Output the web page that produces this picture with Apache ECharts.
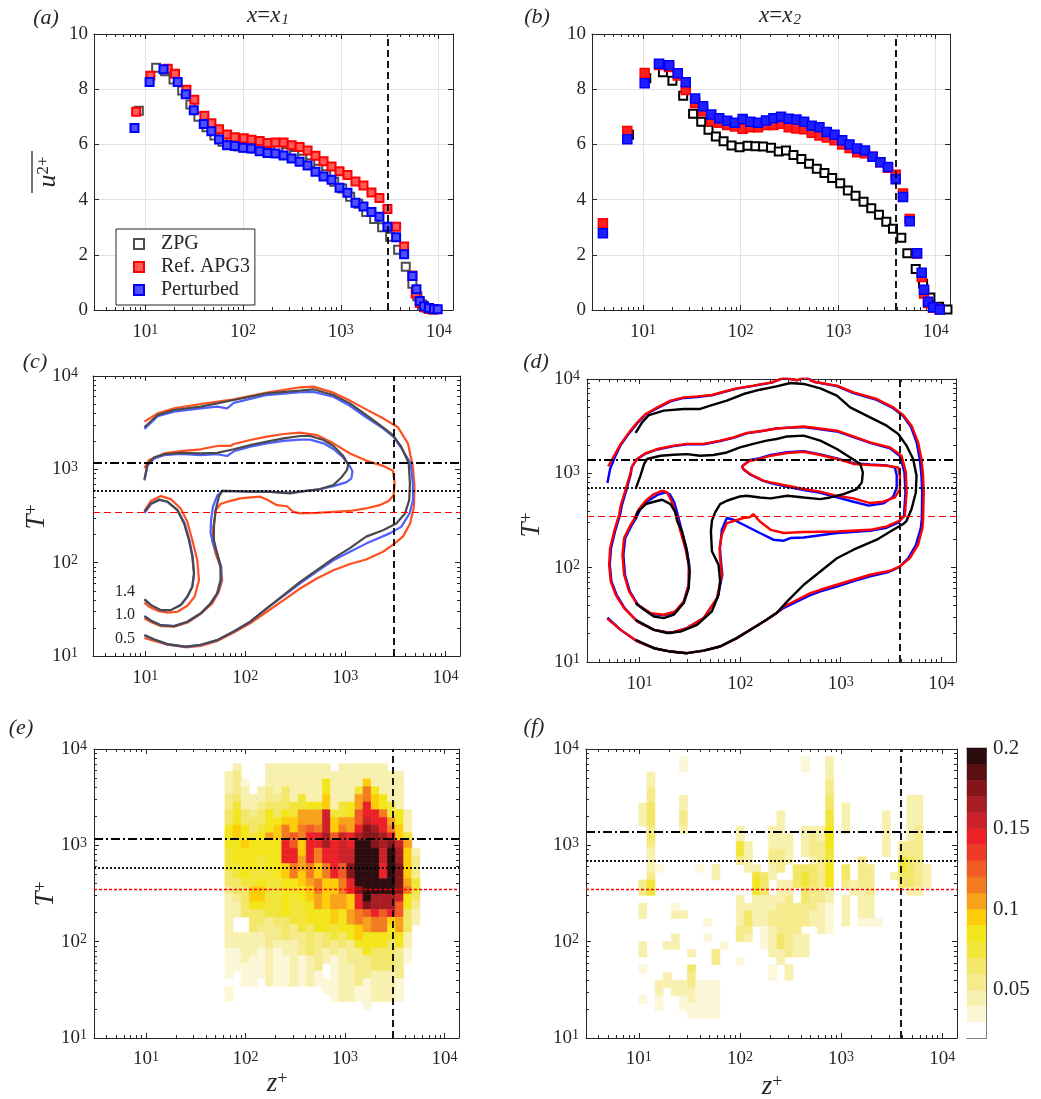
<!DOCTYPE html>
<html>
<head>
<meta charset="utf-8">
<title>Variance profiles and spectra</title>
<script src="https://cdn.jsdelivr.net/npm/echarts/dist/echarts.min.js"></script>
<style>
html,body{margin:0;padding:0;background:#ffffff;}
#chart{width:1041px;height:1099px;}
</style>
</head>
<body>
<div id="chart"></div>
<script>
// ================= DATA =================
// (a) x = x1 : streamwise variance profiles
const A_Z_ZPG = [8.61,12.95,16.0,19.5,23.9,29.0,35.0,42.3,51.0,61.5,74.3,89.6,108,131,157,190,230,277,334,403,487,587,708,855,1032,1245,1503,1814,2188,2642,3188,3847,4605,5381,6053,6809,7660,8616];
const A_U_ZPG = [7.22,8.78,8.65,8.35,7.95,7.45,7.0,6.62,6.32,6.1,5.98,5.92,5.88,5.85,5.82,5.80,5.80,5.72,5.62,5.48,5.32,5.12,4.92,4.65,4.40,4.10,3.85,3.55,3.30,3.00,2.65,2.18,1.57,0.95,0.50,0.20,0.06,0.02];
const A_Z_APG = [8.09,11.3,17.0,20.2,26.4,31.8,40.3,47.5,56.9,68.7,82.3,102,122,148,178,215,260,314,379,457,551,665,803,969,1169,1411,1703,2055,2480,2993,3671,4430,5381,5820,6397,7086,7962,8950];
const A_U_APG = [7.18,8.49,8.74,8.56,7.98,7.62,7.04,6.77,6.55,6.36,6.26,6.22,6.17,6.12,6.05,6.07,6.07,5.97,5.91,5.78,5.59,5.39,5.20,5.03,4.89,4.66,4.51,4.26,4.06,3.66,3.02,2.30,1.25,0.60,0.25,0.10,0.04,0.02];
const A_Z_PERT = [7.78,11.1,15.4,21.5,26.0,31.4,39.7,47.5,56.9,68.7,82.3,100,121,148,178,215,260,314,379,457,551,665,803,969,1169,1411,1703,2055,2480,2993,3671,4430,5381,5918,6397,7086,7962,8950,9770];
const A_U_PERT = [6.59,8.26,8.72,8.26,7.82,7.24,6.74,6.48,6.18,5.97,5.94,5.88,5.85,5.75,5.69,5.67,5.60,5.49,5.37,5.24,5.01,4.84,4.72,4.43,4.25,3.89,3.75,3.55,3.38,3.02,2.64,2.02,1.23,0.75,0.33,0.14,0.07,0.04,0.03];

// (b) x = x2
const B_Z_ZPG = [7.18,10.8,16.0,20.0,25.8,32.6,39.5,46.9,55.8,66.9,80.8,97.7,118,142,170,205,246,292,348,420,503,604,724,868,1049,1257,1507,1820,2183,2618,3114,3645,4440,5116,6234,7417,8810,10820,13190];
const B_U_ZPG = [6.35,8.40,8.61,8.31,7.76,7.11,6.82,6.53,6.29,6.11,5.96,5.90,5.95,5.93,5.92,5.88,5.74,5.78,5.62,5.47,5.30,5.12,4.96,4.78,4.59,4.33,4.14,3.92,3.69,3.45,3.20,2.94,2.62,2.06,1.49,0.95,0.45,0.12,0.02];
const B_Z_RB = [3.88,6.90,10.4,14.6,18.5,22.7,27.4,34.2,41.3,50.0,60.4,72.9,87.4,105,126,151,182,217,260,311,373,448,536,643,765,917,1100,1307,1567,1880,2253,2704,3238,3885,4617,5406,6427,7180,7590,8340,9395,10990];
const B_U_APG = [3.14,6.49,8.59,8.88,8.80,8.50,7.97,7.50,7.20,6.85,6.78,6.70,6.65,6.57,6.62,6.62,6.70,6.70,6.75,6.62,6.58,6.55,6.42,6.32,6.25,6.15,6.0,5.87,5.72,5.68,5.55,5.35,5.15,4.90,4.22,3.30,2.05,1.20,0.60,0.25,0.08,0.02];
const B_U_PERT = [2.78,6.19,8.22,8.92,8.87,8.58,8.25,7.66,7.38,7.08,6.95,6.86,6.78,6.92,6.82,6.78,6.87,6.95,7.00,6.93,6.90,6.82,6.68,6.62,6.45,6.35,6.15,6.0,5.85,5.78,5.55,5.35,5.18,4.74,4.09,3.22,2.06,1.35,0.73,0.30,0.10,0.02];

// reference lines: boundary-layer thickness and time scales
const DELTA_X1 = 3050, DELTA_X2 = 3900;
const TLINE_X1 = [1170, 590, 348];
const TLINE_X2 = [1400, 695, 349];

// (c) contours at x1, levels 0.5 / 1.0 / 1.4  [z+, T+]
const C_ZPG_05 = [[9.8,2820],[13.3,3820],[19.4,4320],[35.7,4690],[52.3,5090],[76.6,5530],[164,6520],[353,6960],[480,7200],[759,6250],[1111,5090],[1614,3820],[2380,2820],[2990,2330],[3620,1750],[4300,1160],[4420,708],[4350,468],[3950,337],[3230,263],[2380,223],[1614,190],[1111,143],[759,111],[518,83],[353,62.4],[241,44.9],[164,32.4],[112,23.3],[76.6,18.3],[52.3,14.8],[35.7,13.2],[25.3,12.6],[16.7,13.4],[12.3,15.0],[9.8,16.8]];
const C_ZPG_10 = [[9.8,783],[10.55,1140],[12.3,1345],[15.45,1450],[22.6,1500],[35.7,1480],[52.3,1500],[76.6,1640],[112,1820],[164,1980],[241,2150],[353,2275],[445,2275],[604,2060],[759,1780],[954,1390],[1070,1110],[1030,968],[916,823],[759,679],[559,615],[353,576],[281,552],[164,576],[112,576],[76.6,583],[58.7,589],[54.4,509],[50.4,365],[48.5,242],[48.5,175],[52.3,125],[56.5,90.1],[56.5,65.0],[52.3,46.8],[44.9,36.6],[35.7,28.6],[26.3,23.3],[19.4,20.9],[14.3,21.4],[11.4,23.9],[9.8,26.8]];
const C_ZPG_14 = [[9.8,350],[11.4,431],[13.8,475],[16.7,449],[20.95,365],[24.4,263],[27.3,175],[29.5,116],[30.7,76.5],[29.5,55.1],[26.3,43.1],[22.6,35.1],[18.0,31.0],[14.3,31.0],[11.4,35.1],[9.8,40.4]];
const C_PERT_05 = [[9.8,2700],[13.3,3700],[19.4,4150],[35.7,4500],[52.3,4700],[65.8,4500],[76.6,5150],[164,6250],[353,6700],[480,6750],[759,6000],[1111,4800],[1614,3600],[2380,2750],[2990,2250],[3620,1700],[4500,1160],[4730,708],[4750,468],[4380,337],[3620,242],[2770,206],[1614,160],[1111,131],[759,106],[518,80],[353,60],[241,44],[164,32.4],[112,23.3],[76.6,18.3],[52.3,14.8],[35.7,13.1],[25.3,12.5],[16.7,13.3],[12.3,15.0],[9.8,16.6]];
const C_PERT_10 = [[9.8,760],[10.55,1110],[12.3,1310],[15.45,1420],[22.6,1460],[35.7,1420],[52.3,1450],[65.8,1390],[76.6,1560],[112,1750],[164,1900],[241,2020],[353,2080],[445,2080],[604,1900],[759,1650],[954,1330],[1110,1080],[1176,960],[1150,800],[1030,730],[759,660],[559,612],[353,576],[281,560],[164,576],[112,576],[76.6,583],[58.7,589],[52.3,520],[47.5,400],[45.5,290],[44.9,210],[47.5,160],[52.3,125],[57.5,90],[57.5,65],[52.3,46.8],[44.9,36.6],[35.7,28.6],[26.3,23.3],[19.4,20.9],[14.3,21.4],[11.4,23.9],[9.8,26.8]];
const C_PERT_14 = [[9.8,340],[11.4,425],[13.8,470],[16.7,449],[20.95,368],[24.8,263],[27.6,175],[29.8,116],[30.7,76.5],[29.5,55.1],[26.3,43.1],[22.6,35.1],[18.0,31.0],[14.3,31.0],[11.4,35.1],[9.8,40.4]];
const C_APG_05 = [[9.8,3240],[13.3,3980],[19.4,4500],[35.7,5010],[76.6,5620],[164,6630],[353,7570],[480,7690],[759,6630],[1111,5450],[1614,4390],[2380,3520],[3360,2820],[4220,1900],[4730,1070],[4910,652],[4850,397],[4440,263],[3760,190],[2990,155],[2380,131],[1614,108],[1111,96.8],[759,83],[518,67.7],[353,52.9],[241,39.7],[164,29.8],[112,22.4],[76.6,17.8],[52.3,14.5],[35.7,12.8],[25.3,12.4],[16.7,13.2],[12.3,14.5],[9.8,15.6]];
const C_APG_10 = [[9.8,1030],[10.9,1260],[15.45,1480],[22.6,1570],[35.7,1640],[52.3,1780],[71,1780],[76.6,1870],[112,2060],[164,2240],[241,2390],[353,2470],[518,2330],[759,1900],[1111,1480],[1614,1240],[2380,1090],[2990,968],[3110,708],[3040,530],[2730,460],[2200,413],[1614,381],[1111,358],[759,350],[518,342],[353,337],[303,350],[260,402],[207,413],[164,475],[141,509],[112,500],[89.3,488],[76.6,468],[65.8,449],[56.5,425],[50.8,365],[47.9,242],[46.7,175],[50.4,125],[56.5,90],[58.7,65],[54.4,48.8],[46.7,36.6],[35.7,28.2],[26.3,22.7],[19.4,20.6],[14.3,20.9],[11.4,23.1],[9.8,25.3]];
const C_APG_14 = [[9.8,358],[11.4,460],[14.3,517],[18.0,480],[22.6,381],[26.3,274],[29.5,175],[33.1,106],[34.4,65],[31.1,43.1],[26.3,34.5],[20.95,29.8],[16.7,29.1],[13.3,30.5],[10.9,33.7],[9.8,37.3]];
const C_LEVEL_TEXT = ['1.4', '1.0', '0.5'];

// (d) contours at x2
const D_ZPG_05 = [[9.13,2680],[10.6,3470],[12.4,4150],[17.4,4620],[27.5,4810],[40.1,4810],[50.4,5210],[73.7,5890],[108,6930],[157,7700],[230,8350],[316,9070],[429,8860],[627,7950],[916,6650],[1242,5000],[1960,3920],[2863,3200],[3730,2610],[4515,1965],[5250,1420],[5670,944],[5580,627],[5058,418],[4515,314],[4180,290],[3330,252],[2281,198],[1340,155],[916,126],[627,91.2],[429,65.9],[294,43.9],[230,33.0],[183,28.0],[135,22.9],[92.5,17.9],[63.2,14.6],[43.3,13.2],[29.6,12.4],[20.3,12.9],[13.9,14.0],[9.13,17.2]];
const D_ZPG_10 = [[9.13,682],[10.2,944],[11.1,1257],[11.9,1420],[16.1,1537],[21.9,1575],[29.6,1600],[40.1,1537],[54.4,1565],[73.7,1665],[99.8,1885],[135,2050],[183,2220],[230,2310],[294,2460],[429,2510],[627,2220],[916,1810],[1242,1475],[1561,1257],[1659,1023],[1622,802],[1446,682],[1067,603],[787,555],[627,533],[429,555],[294,578],[201,542],[157,555],[116,578],[99.8,569],[73.7,512],[63.2,472],[56.4,385],[52.4,314],[51.2,242],[52.4,149],[61.0,107],[63.2,71.5],[61.0,51.6],[52.4,34.4],[37.3,24.8],[25.5,21.0],[18.8,20.3],[13.9,21.9],[9.49,27.3],[9.13,28.0]];
const D_ZPG_14 = [[9.13,330],[9.49,385],[11.5,472],[13.9,500],[16.8,525],[20.3,472],[22.7,385],[23.6,314],[26.4,242],[29.6,149],[31.5,91.2],[30.8,60.8],[27.5,42.2],[21.9,31.7],[17.4,29.2],[13.9,30.4],[11.1,35.8],[9.13,42.2]];
const D_APG_05 = [[4.87,1184],[5.58,1537],[6.49,2050],[7.86,2720],[9.49,3470],[11.5,4260],[15.0,5000],[20.3,5890],[27.5,6380],[37.3,6540],[52.4,6770],[68.4,7330],[92.5,7950],[135,8500],[206,9200],[272,10300],[369,9700],[445,10550],[538,9360],[916,8500],[1340,7210],[2281,6140],[3330,5000],[4180,4150],[5058,3200],[5880,2130],[6350,1420],[6590,944],[6690,627],[6590,327],[6500,263],[5880,175],[4870,126],[3875,103],[3089,92.7],[1960,84.1],[1340,74.5],[916,65.9],[627,58.3],[499,53.8],[369,45.7],[272,38.8],[230,33.0],[183,28.0],[135,22.9],[92.5,17.9],[63.2,14.6],[43.3,13.2],[29.6,12.4],[20.3,12.9],[13.9,14.0],[9.49,16.5],[6.49,21.9],[4.79,28.7]];
const D_PERT_05 = [[4.79,789],[5.09,1110],[5.7,1500],[6.49,2000],[7.86,2650],[9.49,3400],[11.5,4200],[15.0,4900],[20.3,5800],[27.5,6300],[37.3,6450],[52.4,6700],[68.4,7250],[92.5,7900],[135,8450],[206,9150],[272,10300],[369,9700],[445,10550],[538,9360],[916,8400],[1340,7100],[2281,6000],[3330,4900],[4180,4050],[5000,3100],[5700,2100],[6100,1420],[6350,944],[6450,627],[6400,327],[6250,263],[5600,175],[4700,126],[3800,101],[3000,90],[1960,81],[1340,72],[916,63],[627,56],[499,51],[369,44],[272,37.5],[230,33],[183,28],[135,22.9],[92.5,17.9],[63.2,14.6],[43.3,13.2],[29.6,12.4],[20.3,12.9],[13.9,14.0],[9.49,16.5],[6.49,21.9],[4.79,29.5]];
const D_APG_10 = [[8.47,1204],[9.49,1420],[11.5,1640],[15.0,1810],[21.9,1965],[29.6,2050],[43.3,2050],[63.2,2220],[85.8,2400],[116,2680],[170,2830],[230,2990],[429,3140],[916,2830],[1960,2130],[3089,1885],[4026,1537],[4443,1023],[4515,627],[4344,355],[3730,309],[2863,274],[1960,252],[916,242],[429,239],[272,233],[201,252],[157,309],[135,370],[124,341],[108,336],[73.7,297],[65.7,223],[62.4,161],[63.2,126],[65.7,84.1],[58.7,47.6],[43.3,29.2],[29.6,22.9],[20.3,20.3],[13.9,21.9],[9.49,26.9],[7.01,37.3],[5.79,51.6],[5.16,71.5],[4.98,107],[5.09,161],[5.58,242],[6.25,364],[6.49,453],[7.28,682],[8.15,1023],[8.47,1204]];
const D_PERT_10 = [[8.3,1150],[9.3,1400],[11.5,1620],[15.0,1790],[21.9,1940],[29.6,2030],[43.3,2030],[63.2,2200],[85.8,2380],[116,2650],[170,2830],[230,3000],[429,3100],[916,2780],[1960,2100],[3089,1840],[3900,1520],[4300,1023],[4400,627],[4250,355],[3730,300],[2863,265],[1960,246],[916,233],[429,209],[316,206],[272,193],[214,198],[157,233],[108,285],[85.8,322],[73.7,336],[65.7,252],[63,161],[64,126],[66.5,84.1],[59.5,47.6],[43.3,29.2],[29.6,22.9],[20.3,20.3],[13.9,21.9],[9.49,26.9],[7.1,37.3],[5.9,51.6],[5.25,71.5],[5.05,107],[5.2,161],[5.7,242],[6.4,364],[6.65,453],[7.45,682],[8.2,1000],[8.3,1150]];
const D_APG_14A = [[16.8,655],[13.9,603],[11.5,512],[9.86,418],[8.81,327],[8.15,285],[7.01,206],[6.75,137],[7.01,84.1],[7.86,56.0],[9.49,40.5],[12.9,33.0],[17.4,31.7],[22.7,34.4],[27.5,43.9],[30.8,65.9],[30.8,107],[28.5,161],[25.5,242],[23.6,336],[21.1,491],[18.8,627],[16.8,655]];
const D_PERT_14A = [[18.2,630],[15.0,590],[12.0,505],[10.2,418],[9.1,327],[8.4,285],[7.2,206],[6.9,137],[7.15,84.1],[8.0,56.0],[9.6,40.5],[12.9,32.5],[17.4,31.2],[22.7,34.0],[27.5,43.5],[30.8,65.9],[31.2,107],[29.2,161],[26.4,242],[24.4,336],[22.2,491],[20.0,600],[18.2,630]];
const D_APG_14B = [[104,1184],[125,1361],[157,1420],[201,1537],[294,1640],[429,1695],[627,1565],[916,1420],[1340,1257],[1960,1225],[2863,1204],[3730,1156],[3875,944],[3875,682],[3460,555],[2652,500],[1960,484],[1340,542],[916,578],[627,639],[429,682],[294,739],[201,802],[170,836],[125,984],[108,1111],[104,1184]];
const D_PERT_14B = [[104,1184],[125,1390],[157,1450],[201,1570],[294,1680],[429,1720],[627,1590],[916,1440],[1340,1280],[1960,1240],[2863,1215],[3460,1150],[3600,960],[3600,700],[3300,560],[2650,480],[1900,455],[1340,500],[916,555],[627,620],[429,665],[294,720],[201,790],[170,830],[125,975],[108,1100],[104,1184]];

// (e),(f) binned maps: one string per z+ column (top T+ row first); code -> value below
const CODE_VALUE = {'2':0.035,'3':0.045,'4':0.055,'5':0.065,'6':0.075,'7':0.085,'8':0.085,'9':0.095,'a':0.105,'b':0.095,'c':0.115,'d':0.125,'e':0.145,'f':0.155,'g':0.165,'h':0.175,'i':0.195};
const E_BINS = {logZ0:1.793, dLogZ:0.0817, logTtop:3.848, dLogT:0.0797};
const E_COLS = [
".333445587766655433333332222.22..",
"34445677b97776655433..33222......",
"..23335577b777765555..3333222....",
"....334556777766bb75553332222....",
"...3345567776667bb7554332222.....",
"333445777a7777666666444433333....",
"33334557998777766666544322222....",
"3335557bcceee9977777555332222....",
"333336699ddeecc77666644333333....",
"333366aaccbbaabb7766664442222....",
"333337aadeeeecca9977755553333....",
"333337aaceeccbbccaa7774444422....",
"3388bbfffggeeccbb997775533..22...",
".33333699deeeeebbaa996644222222..",
"3333366acffffddccaa777553333333..",
"3333377aaeeffhheebbaa7744433333..",
"3336aaddegiiiiiiheecc9974444422..",
"339cceefhhiiiiiiiihdaa7774442222.",
"3337bbeeghhiiiiiiggecc885553333..",
"333377ceeggffeeiiggdcc885553333..",
".333366acehiiiiiiggeb8855553333..",
".3333377bbfgghhhhfddaa774444222..",
"......3336abb99ac775553322.......",
"...........3444665433............"
];
const F_BINS = {logZ0:0.999, dLogZ:0.0803, logTtop:3.92, dLogT:0.08};
const F_COLS = [
"......333.......44.33...33.2...2....",
"..3344555454333466..................",
"..............2..............3322...",
"........................3...33......",
"...................23..33....33.....",
"22...33443..........3........3322...",
".........................3.5443322..",
"..............2..............22222..",
".....................2.2.....22222..",
"..............33.........44..22222..",
"........................2...........",
"....................................",
".........33664....333344..2.........",
"...........3333....35543............",
"..............36763333..............",
"...............5553333222...........",
".........3334433..33443333.22.......",
".......33333444.33344445533.........",
"..........3333..3344444444.33.......",
"..............555..4444333..........",
"22.......3333.56655444.333..........",
".........3444355544433..............",
".........33444444443333.............",
"33344556677766777332222.............",
"....................................",
"......3333....554.3333..............",
"................33..................",
".............444433332..............",
"..............44443332..............",
".....................2..............",
".......333333.......................",
"...............3....................",
"...........446655...................",
".....3333334455553..................",
".....3333444444443..................",
"..............333..................."
];

// colour bar: 18 bands of 0.01 from 0.02 to 0.2 (bottom to top)
const CB_MIN = 0.02, CB_STEP = 0.01;
const CB_COLORS = ['#ffffff','#fcf7d6','#f8f0af','#f5eb8c','#f3e76a','#f2e53a','#f3e61b','#fdcd0a','#f8a21b','#f47c20','#f15b24','#ef3a26','#ec2027','#cb2128','#a71d22','#85151a','#5a0e11','#2b0c0f'];
const CB_TICKS = [0.05, 0.1, 0.15, 0.2];

// tick values
const LOG_MAJOR = [10, 100, 1000, 10000];
const LOG_MINOR = [3,4,5,6,7,8,9,20,30,40,50,60,70,80,90,200,300,400,500,600,700,800,900,2000,3000,4000,5000,6000,7000,8000,9000];
const Z_RANGE = [3, 14000];
const T_RANGE = [10, 10000];
const U_RANGE = [0, 10];

// ================= STYLE / BUILD =================
const FONT = '"Liberation Serif","Times New Roman",serif';
const INK = '#262626';
const zip = (a, b) => a.map((v, i) => [v, b[i]]);

const POW_RICH = {
  b: {fontFamily: FONT, fontSize: 19, color: INK, lineHeight: 19, verticalAlign: 'bottom'},
  s: {fontFamily: FONT, fontSize: 14, color: INK, lineHeight: 14, verticalAlign: 'top', padding: [0, 0, 10, 0]}
};
function powFmt(v) { const e = Math.round(Math.log10(v)); return '{b|10}{s|' + e + '}'; }

const grids = [
  {left: 94, top: 34, width: 359, height: 276},
  {left: 592, top: 34, width: 358, height: 276},
  {left: 93, top: 376, width: 367, height: 280},
  {left: 587, top: 379, width: 369, height: 283},
  {left: 94, top: 749, width: 365, height: 289},
  {left: 586, top: 749, width: 371, height: 289},
  {left: 967, top: 748, width: 19, height: 290}
].map(g => Object.assign({containLabel: false, outerBoundsMode: 'none', show: false}, g));

const xAxes = [], yAxes = [];
function logAxes(list, gi, dim, range, margin, grid) {
  const pos = dim === 'x' ? ['bottom', 'top'] : ['left', 'right'];
  const base = {type: 'log', logBase: 10, gridIndex: gi, min: range[0], max: range[1]};
  const idx = list.length;
  list.push(Object.assign({}, base, {position: pos[0],
    axisLine: {show: true, onZero: false, lineStyle: {color: INK, width: 1}},
    axisTick: {show: true, inside: true, length: 5, customValues: LOG_MAJOR, lineStyle: {color: INK}},
    axisLabel: {show: true, customValues: LOG_MAJOR, margin: margin, formatter: powFmt, rich: POW_RICH},
    splitLine: {show: !!grid, lineStyle: {color: '#e4e4e4', width: 1}}}));
  list.push(Object.assign({}, base, {position: pos[1],
    axisLine: {show: true, onZero: false, lineStyle: {color: INK, width: 1}},
    axisTick: {show: true, inside: true, length: 5, customValues: LOG_MAJOR, lineStyle: {color: INK}},
    axisLabel: {show: false}, splitLine: {show: false}}));
  pos.forEach(p => list.push(Object.assign({}, base, {position: p,
    axisLine: {show: false, onZero: false},
    axisTick: {show: true, inside: true, length: 3, customValues: LOG_MINOR, lineStyle: {color: INK}},
    axisLabel: {show: false}, splitLine: {show: false}})));
  return idx;
}
function linY(gi) {
  const base = {type: 'value', gridIndex: gi, min: U_RANGE[0], max: U_RANGE[1], interval: 2};
  const idx = yAxes.length;
  yAxes.push(Object.assign({}, base, {position: 'left',
    axisLine: {show: true, onZero: false, lineStyle: {color: INK}},
    axisTick: {show: true, inside: true, length: 5, lineStyle: {color: INK}},
    axisLabel: {margin: 6, fontFamily: FONT, fontSize: 19, color: INK},
    splitLine: {show: true, lineStyle: {color: '#e4e4e4', width: 1}}}));
  yAxes.push(Object.assign({}, base, {position: 'right',
    axisLine: {show: true, onZero: false, lineStyle: {color: INK}},
    axisTick: {show: true, inside: true, length: 5, lineStyle: {color: INK}},
    axisLabel: {show: false}, splitLine: {show: false}}));
  return idx;
}

const P = {};
P.a = {x: logAxes(xAxes, 0, 'x', Z_RANGE, 13, true), y: linY(0)};
P.b = {x: logAxes(xAxes, 1, 'x', Z_RANGE, 13, true), y: linY(1)};
P.c = {x: logAxes(xAxes, 2, 'x', Z_RANGE, 13), y: logAxes(yAxes, 2, 'y', T_RANGE, 15)};
P.d = {x: logAxes(xAxes, 3, 'x', Z_RANGE, 13), y: logAxes(yAxes, 3, 'y', T_RANGE, 7)};
P.e = {x: logAxes(xAxes, 4, 'x', Z_RANGE, 12), y: logAxes(yAxes, 4, 'y', T_RANGE, 7)};
P.f = {x: logAxes(xAxes, 5, 'x', Z_RANGE, 12), y: logAxes(yAxes, 5, 'y', T_RANGE, 7)};
// colour bar axes
const CBX = xAxes.length;
xAxes.push({type: 'value', gridIndex: 6, min: 0, max: 1, position: 'bottom', axisLine: {show: true, onZero: false, lineStyle: {color: '#555'}}, axisTick: {show: false}, axisLabel: {show: false}, splitLine: {show: false}});
xAxes.push({type: 'value', gridIndex: 6, min: 0, max: 1, position: 'top', axisLine: {show: true, onZero: false, lineStyle: {color: '#555'}}, axisTick: {show: false}, axisLabel: {show: false}, splitLine: {show: false}});
const CBY = yAxes.length;
yAxes.push({type: 'value', gridIndex: 6, min: CB_MIN, max: 0.2, position: 'right',
  axisLine: {show: true, onZero: false, lineStyle: {color: '#555'}},
  axisTick: {show: true, inside: true, length: 4, customValues: CB_TICKS, lineStyle: {color: '#555'}},
  axisLabel: {show: true, customValues: CB_TICKS, margin: 7, fontFamily: FONT, fontSize: 21, color: INK, formatter: v => String(Math.round(v * 100) / 100)},
  splitLine: {show: false}});
yAxes.push({type: 'value', gridIndex: 6, min: CB_MIN, max: 0.2, position: 'left',
  axisLine: {show: true, onZero: false, lineStyle: {color: '#555'}},
  axisTick: {show: true, inside: true, length: 4, customValues: CB_TICKS, lineStyle: {color: '#555'}},
  axisLabel: {show: false}, splitLine: {show: false}});

function colorOf(v) {
  let k = Math.floor((v - CB_MIN) / CB_STEP + 1e-9);
  k = Math.max(0, Math.min(CB_COLORS.length - 1, k));
  return CB_COLORS[k];
}

const series = [];
function squares(name, p, data, fill, border, bw, size) {
  series.push({type: 'scatter', name, xAxisIndex: p.x, yAxisIndex: p.y, data, symbol: 'rect', symbolSize: size,
    itemStyle: {color: fill, borderColor: border, borderWidth: bw, opacity: 1}, emphasis: {disabled: true}, silent: true, animation: false});
}
function contour(name, p, data, color, w) {
  series.push({type: 'line', name, xAxisIndex: p.x, yAxisIndex: p.y, data, showSymbol: false, symbol: 'none',
    lineStyle: {color, width: w}, emphasis: {disabled: true}, silent: true, clip: true, animation: false, z: 3});
}
function refLines(p, delta, tl, redStyle) {
  const ml = [{xAxis: delta, lineStyle: {color: '#000000', width: 1.8, type: [7, 4]}}];
  if (tl) {
    ml.push({yAxis: tl[0], lineStyle: {color: '#000000', width: 1.8, type: [9, 3, 2, 3]}});
    ml.push({yAxis: tl[1], lineStyle: {color: '#000000', width: 1.8, type: [2, 2]}});
    ml.push({yAxis: tl[2], lineStyle: redStyle});
  }
  series.push({type: 'line', name: 'ref', xAxisIndex: p.x, yAxisIndex: p.y, data: [], z: 6, silent: true, animation: false,
    color: '#000000',
    markLine: {silent: true, symbol: ['none', 'none'], label: {show: false}, animation: false, emphasis: {disabled: true}, data: ml}});
}
function heat(p, cols, bins) {
  const cells = [];
  cols.forEach((col, i) => {
    const z0 = Math.pow(10, bins.logZ0 + i * bins.dLogZ), z1 = Math.pow(10, bins.logZ0 + (i + 1) * bins.dLogZ);
    for (let r = 0; r < col.length; r++) {
      const v = CODE_VALUE[col[r]];
      if (v === undefined) continue;
      const t0 = Math.pow(10, bins.logTtop - r * bins.dLogT), t1 = Math.pow(10, bins.logTtop - (r + 1) * bins.dLogT);
      cells.push([z0, z1, t0, t1, v]);
    }
  });
  series.push({type: 'custom', name: 'map', xAxisIndex: p.x, yAxisIndex: p.y, data: cells, clip: true, silent: true, animation: false, z: 2,
    encode: {x: [0, 1], y: [2, 3]},
    renderItem: function (params, api) {
      const a = api.coord([api.value(0), api.value(2)]);
      const b = api.coord([api.value(1), api.value(3)]);
      const c = colorOf(api.value(4));
      return {type: 'rect', shape: {x: a[0], y: a[1], width: b[0] - a[0], height: b[1] - a[1]}, style: {fill: c, stroke: c, lineWidth: 0.6}};
    }});
}

// (a)
squares('ZPG', P.a, zip(A_Z_ZPG, A_U_ZPG), '#ffffff', '#4d4d4d', 2, 8);
squares('Ref. APG3', P.a, zip(A_Z_APG, A_U_APG), '#ff5a5a', '#ff0000', 2, 8);
squares('Perturbed', P.a, zip(A_Z_PERT, A_U_PERT), '#5050ff', '#0000ff', 2, 8);
refLines(P.a, DELTA_X1, null);
// (b)
squares('ZPG', P.b, zip(B_Z_ZPG, B_U_ZPG), '#ffffff', '#000000', 2, 8);
squares('Ref. APG3', P.b, zip(B_Z_RB, B_U_APG), '#ff1f1f', '#ff0000', 1.5, 9);
squares('Perturbed', P.b, zip(B_Z_RB, B_U_PERT), '#1f1fff', '#0000ff', 1.5, 9);
refLines(P.b, DELTA_X2, null);
// (c)
const C_RED = '#ff5020', C_BLUE = '#5060ff', C_GRAY = '#4a4a4a';
[C_APG_05, C_APG_10, C_APG_14].forEach((d, i) => contour('c apg ' + i, P.c, d, C_RED, 2.2));
[C_PERT_05, C_PERT_10, C_PERT_14].forEach((d, i) => contour('c pert ' + i, P.c, d, C_BLUE, 2.2));
[C_ZPG_05, C_ZPG_10, C_ZPG_14].forEach((d, i) => contour('c zpg ' + i, P.c, d, C_GRAY, 2.2));
refLines(P.c, DELTA_X1, TLINE_X1, {color: '#ff0000', width: 1.1, type: [7, 4]});
// (d)
[D_PERT_05, D_PERT_10, D_PERT_14A, D_PERT_14B].forEach((d, i) => contour('d pert ' + i, P.d, d, '#0000ff', 2.4));
[D_APG_05, D_APG_10, D_APG_14A, D_APG_14B].forEach((d, i) => contour('d apg ' + i, P.d, d, '#ff0000', 2.4));
[D_ZPG_05, D_ZPG_10, D_ZPG_14].forEach((d, i) => contour('d zpg ' + i, P.d, d, '#000000', 2.4));
refLines(P.d, DELTA_X2, TLINE_X2, {color: '#ff0000', width: 1.1, type: [7, 4]});
// (e),(f)
heat(P.e, E_COLS, E_BINS);
refLines(P.e, DELTA_X1, TLINE_X1, {color: '#ff0000', width: 1.3, type: [3, 2]});
heat(P.f, F_COLS, F_BINS);
refLines(P.f, DELTA_X2, TLINE_X2, {color: '#ff0000', width: 1.3, type: [3, 2]});
// colour bar
series.push({type: 'custom', name: 'colorbar', xAxisIndex: CBX, yAxisIndex: CBY, silent: true, animation: false,
  data: CB_COLORS.map((c, k) => [CB_MIN + k * CB_STEP, CB_MIN + (k + 1) * CB_STEP, k]),
  encode: {y: [0, 1]},
  renderItem: function (params, api) {
    const a = api.coord([0, api.value(1)]);
    const b = api.coord([1, api.value(0)]);
    const c = CB_COLORS[api.value(2)];
    return {type: 'rect', shape: {x: a[0], y: a[1], width: b[0] - a[0], height: b[1] - a[1]}, style: {fill: c, stroke: c, lineWidth: 0.5}};
  }});

// ---------- text ----------
const IT = {fontFamily: FONT, fontStyle: 'italic', fill: INK};
function txt(x, y, text, rich, opt) {
  opt = opt || {};
  const fs = opt.fs || 22;
  const style = {text, fill: INK, fontFamily: FONT, fontSize: fs, fontStyle: opt.it ? 'italic' : 'normal', align: opt.align || 'center', verticalAlign: 'middle'};
  if (rich) style.rich = rich;
  return {type: 'text', x, y, rotation: opt.rot || 0, silent: true, z: 100, style};
}
const TITLE_RICH = {
  i: Object.assign({}, IT, {fontSize: 23, lineHeight: 23, verticalAlign: 'top'}),
  n: {fontFamily: FONT, fill: INK, fontSize: 23, lineHeight: 23, verticalAlign: 'top'},
  d: Object.assign({}, IT, {fontSize: 15, lineHeight: 15, verticalAlign: 'bottom', padding: [13, 0, 0, 1]})
};
const SUP_RICH = {
  t: Object.assign({}, IT, {fontSize: 27, lineHeight: 27, verticalAlign: 'bottom'}),
  p: {fontFamily: FONT, fill: INK, fontSize: 18, lineHeight: 18, verticalAlign: 'top', padding: [0, 0, 12, 0]}
};
const graphic = [
  txt(46, 18, '(a)', null, {it: true}),
  txt(537, 17, '(b)', null, {it: true}),
  txt(35, 362, '(c)', null, {it: true}),
  txt(536, 362, '(d)', null, {it: true}),
  txt(21, 728, '(e)', null, {it: true}),
  txt(534, 727, '(f)', null, {it: true}),
  txt(268, 16, '{i|x}{n|=}{i|x}{d|1}', TITLE_RICH),
  txt(780, 16, '{i|x}{n|=}{i|x}{d|2}', TITLE_RICH),
  txt(37, 517, '{t|T}{p|+}', SUP_RICH, {rot: Math.PI / 2}),
  txt(532, 525, '{t|T}{p|+}', SUP_RICH, {rot: Math.PI / 2}),
  txt(46, 894, '{t|T}{p|+}', SUP_RICH, {rot: Math.PI / 2}),
  txt(277, 1084, '{t|z}{p|+}', SUP_RICH),
  txt(772, 1087, '{t|z}{p|+}', SUP_RICH),
  txt(125, 592, C_LEVEL_TEXT[0], null, {fs: 16}),
  txt(125, 615, C_LEVEL_TEXT[1], null, {fs: 16}),
  txt(125, 639, C_LEVEL_TEXT[2], null, {fs: 16}),
  {type: 'group', x: 48, y: 172, rotation: Math.PI / 2, silent: true, z: 100, children: [
    {type: 'text', style: {text: '{u|u}{s|2+}', align: 'center', verticalAlign: 'middle', rich: {
      u: Object.assign({}, IT, {fontSize: 26, lineHeight: 26, verticalAlign: 'bottom'}),
      s: {fontFamily: FONT, fill: INK, fontSize: 17, lineHeight: 17, verticalAlign: 'top', padding: [0, 0, 11, 0]}}}},
    {type: 'line', shape: {x1: -21, y1: -16, x2: 21, y2: -16}, style: {stroke: INK, lineWidth: 1.3}}
  ]}
];

const chart = echarts.init(document.getElementById('chart'), null, {renderer: 'canvas'});
chart.setOption({
  backgroundColor: '#ffffff',
  animation: false,
  grid: grids,
  xAxis: xAxes,
  yAxis: yAxes,
  legend: {
    data: ['ZPG', 'Ref. APG3', 'Perturbed'], left: 116, top: 229, orient: 'vertical', selectedMode: false,
    backgroundColor: '#ffffff', borderColor: INK, borderWidth: 1, padding: [5, 5, 5, 17], itemGap: 3,
    itemWidth: 10, itemHeight: 10,
    textStyle: {fontFamily: FONT, fontSize: 20, color: INK, padding: [0, 0, 0, 12]}
  },
  series: series,
  graphic: graphic
});
</script>
</body>
</html>
